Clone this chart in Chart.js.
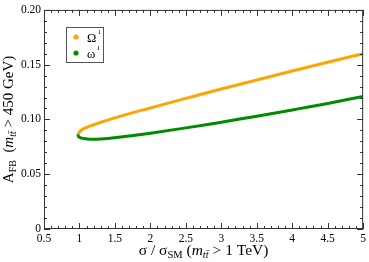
<!DOCTYPE html>
<html>
<head>
<meta charset="utf-8">
<script src="https://cdn.jsdelivr.net/npm/chart.js@4.4.0/dist/chart.umd.min.js"></script>
<style>
    html, body { margin: 0; padding: 0; background: #fff; }
    #wrap { width: 369px; height: 262px; }
</style>
</head>
<body>
<div id="wrap"><canvas id="asymChart"></canvas></div>
<script>
// Valeurs
const omegaUpperX = [0.977, 1.0, 1.03, 1.1, 1.17, 1.3, 1.45, 1.73, 2.0, 2.5, 3.0, 3.5, 4.0, 4.5, 5.0];
const omegaUpperY = [0.0863, 0.0886, 0.0903, 0.0927, 0.0945, 0.0974, 0.1005, 0.1058, 0.1105, 0.1192, 0.1278, 0.136, 0.1442, 0.1522, 0.160];
const omegaLowerX = [0.977, 0.985, 1.01, 1.03, 1.1, 1.17, 1.3, 1.45, 1.73, 2.0, 2.5, 2.83, 3.1, 3.5, 4.0, 4.23, 4.5, 5.0];
const omegaLowerY = [0.0863, 0.0845, 0.0835, 0.083, 0.0823, 0.0819, 0.0821, 0.083, 0.0852, 0.0875, 0.0923, 0.0956, 0.0986, 0.103, 0.1087, 0.1113, 0.1146, 0.121];
const seriesNames = ['\u03A9', '\u03C9'];
const seriesColors = ['rgb(255,165,0)', 'rgb(0,139,0)'];
const xTickLabels = ['0.5', '1', '1.5', '2', '2.5', '3', '3.5', '4', '4.5', '5'];
const yTickLabels = ['0', '0.05', '0.10', '0.15', '0.20'];

const SERIF = '"Liberation Serif", "Times New Roman", serif';

function toPoints(xs, ys) {
    return xs.map((x, i) => ({ x: x, y: ys[i] }));
}

// Cadre, graduations vers l'intérieur, titres et légende
const framePlugin = {
    id: 'frame',
    afterDraw(chart) {
        const { ctx, chartArea: a, scales } = chart;
        const xs = scales.x, ys = scales.y;
        ctx.save();
        ctx.strokeStyle = '#333';
        ctx.lineWidth = 1;
        ctx.strokeRect(a.left + 0.5, a.top + 0.5, a.right - a.left - 1, a.bottom - a.top - 1);

        ctx.beginPath();
        for (let i = 5; i <= 50; i++) {
            const px = Math.round(xs.getPixelForValue(i / 10)) + 0.5;
            const len = i % 5 === 0 ? 6 : 3;
            ctx.moveTo(px, a.bottom); ctx.lineTo(px, a.bottom - len);
            ctx.moveTo(px, a.top); ctx.lineTo(px, a.top + len);
        }
        for (let i = 0; i <= 20; i++) {
            const py = Math.round(ys.getPixelForValue(i / 100)) + 0.5;
            const len = i % 5 === 0 ? 6 : 3;
            ctx.moveTo(a.left, py); ctx.lineTo(a.left + len, py);
            ctx.moveTo(a.right, py); ctx.lineTo(a.right - len, py);
        }
        ctx.stroke();

        ctx.fillStyle = '#000';
        ctx.textBaseline = 'alphabetic';
        ctx.textAlign = 'left';

        // Titre de l'axe X
        const xParts = [
            { t: '\u03C3 / \u03C3', f: '15.5px', dy: 0 },
            { t: 'SM', f: '10.5px', dy: 3 },
            { t: ' (', f: '15.5px', dy: 0 },
            { t: 'm', f: 'italic 15.5px', dy: 0 },
            { t: 't\u0074\u0304', f: 'italic 10.5px', dy: 3 },
            { t: ' > 1 TeV)', f: '15.5px', dy: 0 }
        ];
        drawParts(ctx, xParts, (a.left + a.right) / 2, 255);

        // Titre de l'axe Y
        const yParts = [
            { t: 'A', f: '15px', dy: 0 },
            { t: 'FB', f: '10px', dy: 3 },
            { t: '  (', f: '15px', dy: 0 },
            { t: 'm', f: 'italic 15px', dy: 0 },
            { t: 't\u0074\u0304', f: 'italic 10px', dy: 3 },
            { t: ' > 450 GeV)', f: '15px', dy: 0 }
        ];
        ctx.save();
        ctx.translate(13, (a.top + a.bottom) / 2);
        ctx.rotate(-Math.PI / 2);
        drawParts(ctx, yParts, 0, 0);
        ctx.restore();

        // Légende
        ctx.strokeStyle = '#555';
        ctx.strokeRect(66.5, 27.5, 37, 35);
        seriesNames.forEach((name, i) => {
            const cy = 37 + i * 16;
            ctx.fillStyle = seriesColors[i];
            ctx.beginPath();
            ctx.arc(76, cy, 2.6, 0, Math.PI * 2);
            ctx.fill();
            ctx.fillStyle = '#000';
            ctx.font = '12.5px ' + SERIF;
            ctx.fillText(name, 87, cy + 5);
            const w = ctx.measureText(name).width;
            ctx.font = '7px ' + SERIF;
            ctx.fillText('1', 87 + w + 1.5, cy - 3);
        });
        ctx.restore();
    }
};

function drawParts(ctx, parts, cx, baseY) {
    let total = 0;
    parts.forEach(p => {
        ctx.font = p.f + ' ' + SERIF;
        p.w = ctx.measureText(p.t).width;
        total += p.w;
    });
    let x = cx - total / 2;
    parts.forEach(p => {
        ctx.font = p.f + ' ' + SERIF;
        ctx.fillText(p.t, x, baseY + p.dy);
        x += p.w;
    });
}

const ctx = document.getElementById('asymChart').getContext('2d');
new Chart(ctx, {
    type: 'scatter',
    data: {
        datasets: [
            {
                label: seriesNames[0] + '1',
                data: toPoints(omegaUpperX, omegaUpperY),
                showLine: true,
                borderColor: seriesColors[0],
                backgroundColor: seriesColors[0],
                borderWidth: 3,
                pointRadius: 0,
                cubicInterpolationMode: 'monotone',
                order: 1
            },
            {
                label: seriesNames[1] + '1',
                data: toPoints(omegaLowerX, omegaLowerY),
                showLine: true,
                borderColor: seriesColors[1],
                backgroundColor: seriesColors[1],
                borderWidth: 3,
                pointRadius: 0,
                cubicInterpolationMode: 'monotone',
                order: 0
            }
        ]
    },
    options: {
        responsive: true,
        maintainAspectRatio: false,
        animation: false,
        layout: { padding: { top: 5, right: 4, left: 0, bottom: 0 } },
        plugins: {
            legend: { display: false },
            tooltip: { enabled: false }
        },
        scales: {
            x: {
                type: 'linear',
                min: 0.5,
                max: 5,
                afterFit: scale => { scale.height = 33; },
                grid: { display: false, drawTicks: false },
                border: { display: false },
                ticks: {
                    stepSize: 0.5,
                    autoSkip: false,
                    maxRotation: 0,
                    padding: 3,
                    color: '#000',
                    font: { family: SERIF, size: 11.5 },
                    callback: value => xTickLabels[Math.round((value - 0.5) / 0.5)]
                }
            },
            y: {
                type: 'linear',
                min: 0,
                max: 0.2,
                afterFit: scale => { scale.width = 44; },
                grid: { display: false, drawTicks: false },
                border: { display: false },
                ticks: {
                    stepSize: 0.05,
                    autoSkip: false,
                    padding: 3,
                    color: '#000',
                    font: { family: SERIF, size: 11.5 },
                    callback: value => yTickLabels[Math.round(value / 0.05)]
                }
            }
        }
    },
    plugins: [framePlugin]
});
</script>
</body>
</html>
